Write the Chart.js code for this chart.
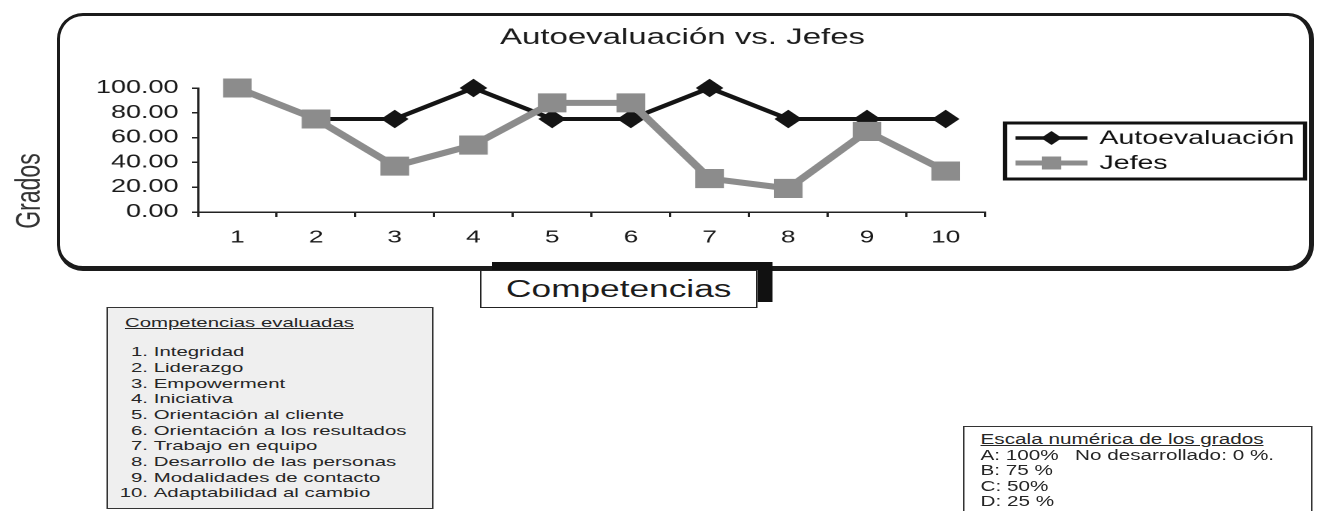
<!DOCTYPE html>
<html lang="es">
<head>
<meta charset="utf-8">
<title>Autoevaluación vs. Jefes</title>
<script src="https://cdn.jsdelivr.net/npm/chart.js@4.4.1/dist/chart.umd.min.js"></script>
<style>
  html, body { margin: 0; padding: 0; background: #fff; }
  body { width: 1317px; height: 511px; overflow: hidden; position: relative;
         font-family: "Liberation Sans", Arial, sans-serif; color: #222; }
  /* rounded frame around the plot */
  #frame { position: absolute; left: 57px; top: 13px; width: 1257px; height: 258px;
           box-sizing: border-box; border: 3px solid #1b1b1b;
           border-right-width: 5px; border-bottom-width: 5px; border-radius: 26px; }
  /* the whole sheet is set in a horizontally widened layout */
  #stage { position: absolute; left: 0; top: 0; width: 878px; height: 511px;
           transform: scaleX(1.5); transform-origin: 0 0; }
  #chart { position: absolute; left: 0; top: 0; }
  .xtitle-shadow { position: absolute; left: 328px; top: 262px; width: 187px; height: 40px; background: #111; }
  .xtitle { position: absolute; left: 320px; top: 270px; width: 185px; height: 38px; box-sizing: border-box;
            border: 1px solid #222; background: #fff; font-size: 23.5px; line-height: 36px;
            text-align: center; color: #1c1c1c; }
  .note { position: absolute; box-sizing: border-box; color: #262626; }
  #compList { left: 71.3px; top: 307px; width: 217.4px; height: 202px; background: #efefef;
              border: 1px solid #333; padding-top: 7px; font-size: 13.6px; line-height: 15.67px; }
  #compList .head { padding-left: 11px; text-decoration: underline; margin-bottom: 13.5px; }
  #compList .item { padding-left: 5.6px; white-space: nowrap; }
  #compList .item .num { display: inline-block; width: 20.8px; text-align: right; margin-right: 3.8px; }
  #scaleBox { left: 642px; top: 426px; width: 233.3px; height: 100px; background: #fff;
              border: 1px solid #333; padding: 5px 0 0 10.7px; font-size: 13.8px; line-height: 15.5px; }
  #scaleBox .head { text-decoration: underline; white-space: nowrap; }
  #scaleBox .row { position: relative; white-space: nowrap; }
  #scaleBox .row span { position: absolute; left: 63px; top: 0; }
</style>
</head>
<body>
<div id="frame"></div>
<div id="stage">
  <canvas id="chart" width="878" height="300"></canvas>
  <div class="xtitle-shadow"></div>
  <div class="xtitle" id="xTitle"></div>
  <div class="note" id="compList"></div>
  <div class="note" id="scaleBox"></div>
</div>
<script>
// ---- data ----
const chartTitle = 'Autoevaluación vs. Jefes';
const yAxisTitle = 'Grados';
const xAxisTitle = 'Competencias';
const competencias = ['1', '2', '3', '4', '5', '6', '7', '8', '9', '10'];
const autoevaluacion = [100, 75, 75, 100, 75, 75, 100, 75, 75, 75];
const jefes = [100, 75, 37, 54, 88, 88, 27, 19, 65, 33];
const gradosTicks = [0, 20, 40, 60, 80, 100];
const competenciasEvaluadas = [
  'Integridad', 'Liderazgo', 'Empowerment', 'Iniciativa', 'Orientación al cliente',
  'Orientación a los resultados', 'Trabajo en equipo', 'Desarrollo de las personas',
  'Modalidades de contacto', 'Adaptabilidad al cambio'
];
const escalaTitulo = 'Escala numérica de los grados';
const escalaGrados = ['A: 100%', 'B: 75 %', 'C: 50%', 'D: 25 %'];
const escalaNota = 'No desarrollado: 0 %.';

const FONT = '"Liberation Sans", Arial, sans-serif';
const BLACK = '#141414';
const GRAY = '#8c8c8c';

// ---- side notes ----
document.getElementById('xTitle').textContent = xAxisTitle;
(function () {
  const list = document.getElementById('compList');
  const head = document.createElement('div');
  head.className = 'head';
  head.textContent = 'Competencias evaluadas';
  list.appendChild(head);
  competenciasEvaluadas.forEach((name, i) => {
    const d = document.createElement('div');
    d.className = 'item';
    const n = document.createElement('span');
    n.className = 'num';
    n.textContent = (i + 1) + '.';
    d.appendChild(n);
    d.appendChild(document.createTextNode(name));
    list.appendChild(d);
  });
  const box = document.getElementById('scaleBox');
  const h = document.createElement('div');
  h.className = 'head';
  h.textContent = escalaTitulo;
  box.appendChild(h);
  escalaGrados.forEach((txt, i) => {
    const r = document.createElement('div');
    r.className = 'row';
    r.textContent = txt;
    if (i === 0) {
      const s = document.createElement('span');
      s.textContent = escalaNota;
      r.appendChild(s);
    }
    box.appendChild(r);
  });
})();

// ---- title, vertical axis caption and boxed legend ----
const decorations = {
  id: 'decorations',
  afterDraw(chart) {
    const ctx = chart.ctx;
    ctx.save();
    ctx.fillStyle = '#1c1c1c';
    ctx.textAlign = 'center';
    ctx.textBaseline = 'middle';
    ctx.font = '22px ' + FONT;
    ctx.fillText(chartTitle, 455, 38);

    ctx.save();
    ctx.translate(20, 191);
    ctx.rotate(-Math.PI / 2);
    ctx.fillStyle = '#333';
    ctx.font = '23px ' + FONT;
    ctx.fillText(yAxisTitle, 0, 0);
    ctx.restore();

    // legend box
    const lx = 670, ly = 123, lw = 200, lh = 56;
    ctx.lineWidth = 3;
    ctx.strokeStyle = '#111';
    ctx.strokeRect(lx, ly, lw, lh);
    const rows = [138, 163];
    chart.data.datasets.forEach((ds, i) => {
      const y = rows[i];
      ctx.strokeStyle = ds.borderColor;
      ctx.lineWidth = i === 0 ? 3.5 : 5;
      ctx.beginPath();
      ctx.moveTo(677, y);
      ctx.lineTo(725, y);
      ctx.stroke();
      ctx.fillStyle = ds.pointBackgroundColor;
      ctx.beginPath();
      if (ds.pointStyle === 'rectRot') {
        ctx.moveTo(701, y - 7); ctx.lineTo(708, y); ctx.lineTo(701, y + 7); ctx.lineTo(694, y);
      } else {
        ctx.rect(694.5, y - 6.5, 13, 13);
      }
      ctx.closePath();
      ctx.fill();
      ctx.fillStyle = '#111';
      ctx.textAlign = 'left';
      ctx.font = '19px ' + FONT;
      ctx.fillText(ds.label, 733, y + 1);
    });
    ctx.restore();
  }
};

Chart.defaults.font.family = FONT;

new Chart(document.getElementById('chart'), {
  type: 'line',
  data: {
    labels: competencias,
    datasets: [
      {
        label: 'Autoevaluación',
        data: autoevaluacion,
        borderColor: BLACK,
        backgroundColor: BLACK,
        borderWidth: 4,
        pointStyle: 'rectRot',
        pointRadius: 8.5,
        pointBackgroundColor: BLACK,
        pointBorderColor: BLACK,
        pointBorderWidth: 1,
        tension: 0,
        clip: false,
        order: 1
      },
      {
        label: 'Jefes',
        data: jefes,
        borderColor: GRAY,
        backgroundColor: GRAY,
        borderWidth: 6,
        pointStyle: 'rect',
        pointRadius: 13.5,
        pointBackgroundColor: GRAY,
        pointBorderColor: GRAY,
        pointBorderWidth: 0,
        tension: 0,
        clip: false,
        order: 0
      }
    ]
  },
  options: {
    responsive: false,
    devicePixelRatio: 2,
    animation: false,
    events: [],
    layout: { padding: { left: 60, right: 221.3, top: 88, bottom: 48 } },
    plugins: { legend: { display: false }, title: { display: false }, tooltip: { enabled: false } },
    scales: {
      x: {
        type: 'category',
        offset: true,
        afterFit(scale) { scale.height = 40; },
        grid: { offset: true, drawOnChartArea: false, drawTicks: true, tickLength: 5,
                color: '#222', lineWidth: 1.5 },
        border: { display: true, color: '#222', width: 1.5 },
        ticks: { color: '#1a1a1a', font: { size: 17.5 }, padding: 10, maxRotation: 0 }
      },
      y: {
        min: 0,
        max: 100,
        afterFit(scale) { scale.width = 72; },
        afterBuildTicks(scale) { scale.ticks = gradosTicks.map(v => ({ value: v })); },
        grid: { drawOnChartArea: false, drawTicks: true, tickLength: 4, color: '#222', lineWidth: 1.5 },
        border: { display: true, color: '#222', width: 1.5 },
        ticks: { color: '#1a1a1a', font: { size: 18 }, padding: 9,
                 callback: v => Number(v).toFixed(2) }
      }
    }
  },
  plugins: [decorations]
});
</script>
</body>
</html>
